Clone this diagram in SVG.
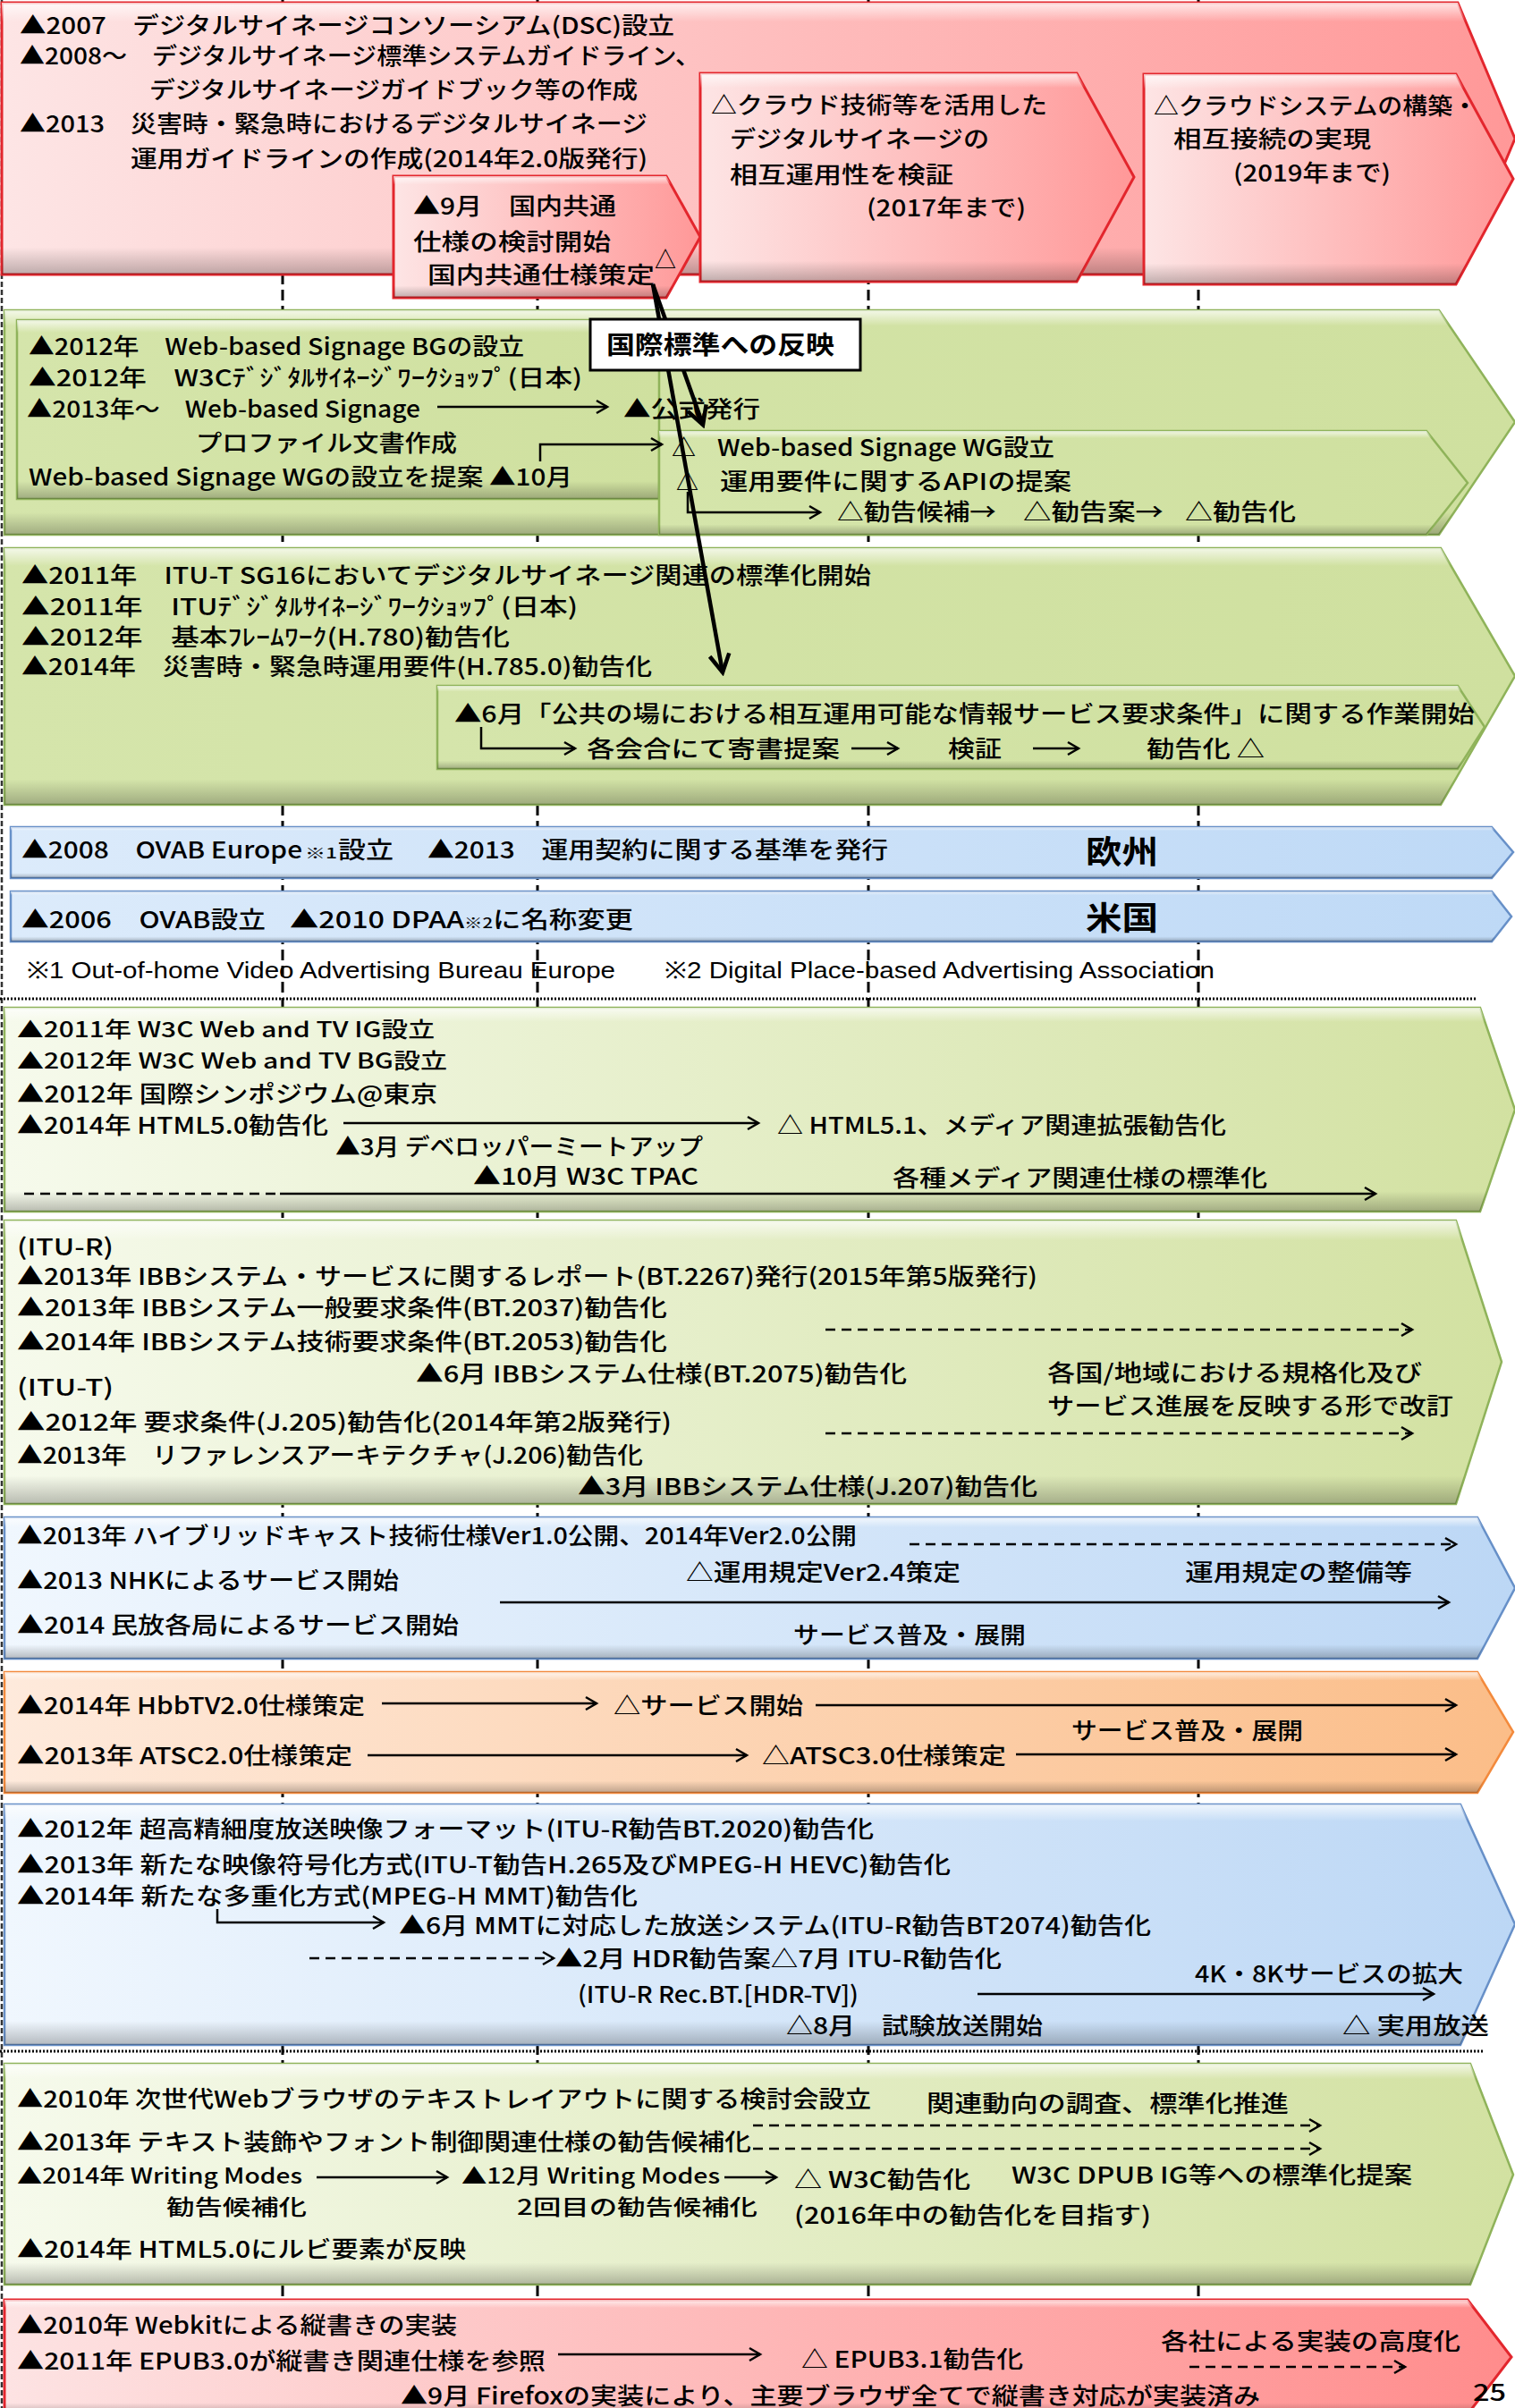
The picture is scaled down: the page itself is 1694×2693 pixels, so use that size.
<svg xmlns="http://www.w3.org/2000/svg" width="1694" height="2693" viewBox="0 0 1694 2693">
<defs>
<style>
.t{font-family:"Noto Sans CJK JP","Noto Sans CJK SC",sans-serif;font-size:26px;font-weight:500;fill:#000}
.t4{font-family:"Noto Sans CJK JP","Noto Sans CJK SC",sans-serif;font-size:24px;font-weight:500;fill:#000}
.b{font-family:"Noto Sans CJK JP","Noto Sans CJK SC",sans-serif;font-size:28px;font-weight:700;fill:#000}
.bb{font-family:"Noto Sans CJK JP","Noto Sans CJK SC",sans-serif;font-size:36px;font-weight:700;fill:#000}
.s{font-family:"Noto Sans CJK JP","Noto Sans CJK SC",sans-serif;font-size:16px;font-weight:500;fill:#000}
.f{font-family:"Liberation Sans",Arial,sans-serif;font-size:26px;fill:#000}
.tl{stroke:#000;stroke-width:3;stroke-dasharray:12 6;fill:none}
.dot{stroke:#000;stroke-width:3;stroke-dasharray:2 2;fill:none}
.ln{stroke:#000;stroke-width:2.5;fill:none;marker-end:url(#ah)}
.dl{stroke:#000;stroke-width:2.5;fill:none;stroke-dasharray:11 7;marker-end:url(#ah)}
.dn{stroke:#000;stroke-width:2.5;fill:none;stroke-dasharray:11 7}
.thick{stroke:#000;stroke-width:4.5;fill:none;marker-end:url(#ahT)}
.red{fill:url(#gRed);stroke:#e3262d;stroke-width:3}
.red2{fill:url(#gRed2);stroke:#e3262d;stroke-width:3}
.grn{fill:url(#gGrn);stroke:#8fb35a;stroke-width:2.5}
.grnL{fill:url(#gGrnL);stroke:#8fb35a;stroke-width:2.5}
.blu{fill:url(#gBlu);stroke:#6790c8;stroke-width:2.5}
.bluL{fill:url(#gBluL);stroke:#6790c8;stroke-width:2.5}
.org{fill:url(#gOrg);stroke:#f38a3c;stroke-width:2.5}
.bev{fill:url(#gBev);stroke:none}
</style>
<linearGradient id="gRed" x1="0" y1="0" x2="1" y2="0"><stop offset="0" stop-color="#fde5e5"/><stop offset="1" stop-color="#ff9898"/></linearGradient>
<linearGradient id="gRed2" x1="0" y1="0" x2="1" y2="0"><stop offset="0" stop-color="#fde3e3"/><stop offset="1" stop-color="#ff8c8c"/></linearGradient>
<linearGradient id="gGrn" x1="0" y1="0" x2="1" y2="0"><stop offset="0" stop-color="#d5e5ab"/><stop offset="1" stop-color="#cfe09f"/></linearGradient>
<linearGradient id="gGrnL" x1="0" y1="0" x2="1" y2="0"><stop offset="0" stop-color="#f6faec"/><stop offset="1" stop-color="#d2e1a1"/></linearGradient>
<linearGradient id="gBlu" x1="0" y1="0" x2="1" y2="0"><stop offset="0" stop-color="#dcebfb"/><stop offset="1" stop-color="#bed9f6"/></linearGradient>
<linearGradient id="gBluL" x1="0" y1="0" x2="1" y2="0"><stop offset="0" stop-color="#f0f7fe"/><stop offset="1" stop-color="#bcd7f5"/></linearGradient>
<linearGradient id="gOrg" x1="0" y1="0" x2="1" y2="0"><stop offset="0" stop-color="#feeadc"/><stop offset="1" stop-color="#fbbd88"/></linearGradient>
<linearGradient id="gBev" x1="0" y1="0" x2="0" y2="1"><stop offset="0" stop-color="#fff" stop-opacity="0.75"/><stop offset="0.07" stop-color="#fff" stop-opacity="0"/><stop offset="0.9" stop-color="#000" stop-opacity="0"/><stop offset="1" stop-color="#000" stop-opacity="0.25"/></linearGradient>
<marker id="ah" markerUnits="userSpaceOnUse" viewBox="0 0 18 18" markerWidth="18" markerHeight="18" refX="15" refY="9" orient="auto"><path d="M3,2 L15,9 L3,16" fill="none" stroke="#000" stroke-width="2.5"/></marker>
<marker id="ahT" markerUnits="userSpaceOnUse" viewBox="0 0 28 28" markerWidth="28" markerHeight="28" refX="24" refY="14" orient="auto"><path d="M4,3 L24,14 L4,25" fill="none" stroke="#000" stroke-width="4.5"/></marker>
</defs>
<rect width="1694" height="2693" fill="#fff"/>

<g id="timeline">
<line class="tl" x1="316" y1="0" x2="316" y2="2693"/>
<line class="tl" x1="601" y1="0" x2="601" y2="2693"/>
<line class="tl" x1="971" y1="0" x2="971" y2="2693"/>
<line class="tl" x1="1340" y1="0" x2="1340" y2="2693"/>
<line x1="2" y1="0" x2="2" y2="2693" stroke="#333" stroke-width="2.5" stroke-dasharray="6 3"/>
<line class="dot" x1="0" y1="1117" x2="1652" y2="1117"/>
<line class="dot" x1="0" y1="2294" x2="1660" y2="2294"/>
</g>

<g id="dsc-japan">
<path class="red" d="M2,3 H1630 L1694,155 L1630,307 H2 Z"/>
<path class="bev" d="M2,3 H1630 L1694,155 L1630,307 H2 Z"/>
<text class="t" x="22" y="38" textLength="732" lengthAdjust="spacingAndGlyphs">▲2007　デジタルサイネージコンソーシアム(DSC)設立</text>
<text class="t" x="22" y="72" textLength="761" lengthAdjust="spacingAndGlyphs">▲2008～　デジタルサイネージ標準システムガイドライン、</text>
<text class="t" x="167" y="110" textLength="546" lengthAdjust="spacingAndGlyphs">デジタルサイネージガイドブック等の作成</text>
<text class="t" x="22" y="148" textLength="702" lengthAdjust="spacingAndGlyphs">▲2013　災害時・緊急時におけるデジタルサイネージ</text>
<text class="t" x="146" y="187" textLength="578" lengthAdjust="spacingAndGlyphs">運用ガイドラインの作成(2014年2.0版発行)</text>
</g>
<g id="box-kokunai">
<path class="red" d="M440,197 H745 L783,265 L745,333 H440 Z"/>
<path class="bev" d="M440,197 H745 L783,265 L745,333 H440 Z"/>
<text class="t" x="462" y="240" textLength="227" lengthAdjust="spacingAndGlyphs">▲9月　国内共通</text>
<text class="t" x="462" y="280" textLength="221" lengthAdjust="spacingAndGlyphs">仕様の検討開始</text>
<text class="t" x="478" y="317" textLength="254" lengthAdjust="spacingAndGlyphs">国内共通仕様策定</text>
<text class="t" x="732" y="300" textLength="24" lengthAdjust="spacingAndGlyphs">△</text>
</g>
<g id="box-2017">
<path class="red" d="M783,82 H1204 L1268,198 L1204,315 H783 Z"/>
<path class="bev" d="M783,82 H1204 L1268,198 L1204,315 H783 Z"/>
<text class="t" x="795" y="127" textLength="376" lengthAdjust="spacingAndGlyphs">△クラウド技術等を活用した</text>
<text class="t" x="816" y="165" textLength="290" lengthAdjust="spacingAndGlyphs">デジタルサイネージの</text>
<text class="t" x="816" y="205" textLength="250" lengthAdjust="spacingAndGlyphs">相互運用性を検証</text>
<text class="t" x="969" y="242" textLength="178" lengthAdjust="spacingAndGlyphs">(2017年まで)</text>
</g>
<g id="box-2019">
<path class="red" d="M1279,83 H1628 L1692,200 L1628,318 H1279 Z"/>
<path class="bev" d="M1279,83 H1628 L1692,200 L1628,318 H1279 Z"/>
<text class="t" x="1290" y="128" textLength="362" lengthAdjust="spacingAndGlyphs">△クラウドシステムの構築・</text>
<text class="t" x="1312" y="165" textLength="221" lengthAdjust="spacingAndGlyphs">相互接続の実現</text>
<text class="t" x="1379" y="203" textLength="176" lengthAdjust="spacingAndGlyphs">(2019年まで)</text>
</g>

<g id="w3c-signage">
<path class="grn" d="M5,347 H1609 L1694,472 L1609,598 H5 Z"/>
<path class="bev" d="M5,347 H1609 L1694,472 L1609,598 H5 Z"/>
<rect class="grn" x="19" y="358" width="718" height="200"/>
<rect class="bev" x="19" y="358" width="718" height="200"/>
<text class="t" x="32" y="397" textLength="554" lengthAdjust="spacingAndGlyphs">▲2012年　Web-based Signage BGの設立</text>
<text class="t" x="32" y="432" textLength="619" lengthAdjust="spacingAndGlyphs">▲2012年　W3Cﾃﾞｼﾞﾀﾙｻｲﾈｰｼﾞﾜｰｸｼｮｯﾌﾟ(日本)</text>
<text class="t" x="30" y="467" textLength="440" lengthAdjust="spacingAndGlyphs">▲2013年～　Web-based Signage</text>
<text class="t" x="697" y="467" textLength="153" lengthAdjust="spacingAndGlyphs">▲公式発行</text>
<text class="t" x="219" y="505" textLength="292" lengthAdjust="spacingAndGlyphs">プロファイル文書作成</text>
<text class="t" x="32" y="543" textLength="608" lengthAdjust="spacingAndGlyphs">Web-based Signage WGの設立を提案 ▲10月</text>
</g>
<g id="w3c-signage-wg">
<path class="grn" d="M737,482 H1595 L1641,540 L1595,598 H737 Z"/>
<path class="bev" d="M737,482 H1595 L1641,540 L1595,598 H737 Z"/>
<text class="t" x="751" y="510" textLength="27" lengthAdjust="spacingAndGlyphs">△</text>
<text class="t" x="802" y="510" textLength="377" lengthAdjust="spacingAndGlyphs">Web-based Signage WG設立</text>
<text class="t" x="756" y="548" textLength="25" lengthAdjust="spacingAndGlyphs">△</text>
<text class="t" x="805" y="548" textLength="393" lengthAdjust="spacingAndGlyphs">運用要件に関するAPIの提案</text>
<text class="t" x="936" y="582" textLength="178" lengthAdjust="spacingAndGlyphs">△勧告候補→</text>
<text class="t" x="1144" y="582" textLength="157" lengthAdjust="spacingAndGlyphs">△勧告案→</text>
<text class="t" x="1325" y="582" textLength="124" lengthAdjust="spacingAndGlyphs">△勧告化</text>
</g>

<g id="itu-signage">
<path class="grn" d="M5,613 H1611 L1694,756 L1611,900 H5 Z"/>
<path class="bev" d="M5,613 H1611 L1694,756 L1611,900 H5 Z"/>
<text class="t" x="24" y="653" textLength="950" lengthAdjust="spacingAndGlyphs">▲2011年　ITU-T SG16においてデジタルサイネージ関連の標準化開始</text>
<text class="t" x="24" y="688" textLength="622" lengthAdjust="spacingAndGlyphs">▲2011年　ITUﾃﾞｼﾞﾀﾙｻｲﾈｰｼﾞﾜｰｸｼｮｯﾌﾟ(日本)</text>
<text class="t" x="24" y="722" textLength="546" lengthAdjust="spacingAndGlyphs">▲2012年　基本ﾌﾚｰﾑﾜｰｸ(H.780)勧告化</text>
<text class="t" x="24" y="755" textLength="705" lengthAdjust="spacingAndGlyphs">▲2014年　災害時・緊急時運用要件(H.785.0)勧告化</text>
</g>
<g id="itu-signage-work">
<path class="grn" d="M489,767 H1630 L1660,813 L1630,860 H489 Z"/>
<path class="bev" d="M489,767 H1630 L1660,813 L1630,860 H489 Z"/>
<text class="t" x="508" y="808" textLength="1141" lengthAdjust="spacingAndGlyphs">▲6月「公共の場における相互運用可能な情報サービス要求条件」に関する作業開始</text>
<text class="t" x="656" y="847" textLength="283" lengthAdjust="spacingAndGlyphs">各会合にて寄書提案</text>
<text class="t" x="1060" y="847" textLength="60" lengthAdjust="spacingAndGlyphs">検証</text>
<text class="t" x="1282" y="847" textLength="132" lengthAdjust="spacingAndGlyphs">勧告化 △</text>
</g>

<g id="europe">
<path class="blu" d="M12,925 H1668 L1692,953 L1668,982 H12 Z"/>
<path class="bev" d="M12,925 H1668 L1692,953 L1668,982 H12 Z"/>
<text class="t" x="24" y="960" textLength="314" lengthAdjust="spacingAndGlyphs">▲2008　OVAB Europe</text>
<text class="s" x="341" y="960" textLength="36" lengthAdjust="spacingAndGlyphs">※1</text>
<text class="t" x="378" y="960" textLength="62" lengthAdjust="spacingAndGlyphs">設立</text>
<text class="t" x="478" y="960" textLength="515" lengthAdjust="spacingAndGlyphs">▲2013　運用契約に関する基準を発行</text>
<text class="bb" x="1214" y="966" textLength="81" lengthAdjust="spacingAndGlyphs">欧州</text>
</g>
<g id="usa">
<path class="blu" d="M12,997 H1668 L1690,1025 L1668,1053 H12 Z"/>
<path class="bev" d="M12,997 H1668 L1690,1025 L1668,1053 H12 Z"/>
<text class="t" x="24" y="1038" textLength="273" lengthAdjust="spacingAndGlyphs">▲2006　OVAB設立</text>
<text class="t" x="324" y="1038" textLength="195" lengthAdjust="spacingAndGlyphs">▲2010 DPAA</text>
<text class="s" x="519" y="1038" textLength="32" lengthAdjust="spacingAndGlyphs">※2</text>
<text class="t" x="551" y="1038" textLength="157" lengthAdjust="spacingAndGlyphs">に名称変更</text>
<text class="bb" x="1214" y="1040" textLength="81" lengthAdjust="spacingAndGlyphs">米国</text>
</g>
<g id="footnotes">
<text class="f" x="30" y="1094" textLength="658" lengthAdjust="spacingAndGlyphs">※1 Out-of-home Video Advertising Bureau Europe</text>
<text class="f" x="743" y="1094" textLength="615" lengthAdjust="spacingAndGlyphs">※2 Digital Place-based Advertising Association</text>
</g>

<g id="w3c-webtv">
<path class="grnL" d="M5,1127 H1655 L1694,1241 L1655,1355 H5 Z"/>
<path class="bev" d="M5,1127 H1655 L1694,1241 L1655,1355 H5 Z"/>
<text class="t4" x="19" y="1160" textLength="467" lengthAdjust="spacingAndGlyphs">▲2011年 W3C Web and TV IG設立</text>
<text class="t4" x="19" y="1195" textLength="481" lengthAdjust="spacingAndGlyphs">▲2012年 W3C Web and TV BG設立</text>
<text class="t" x="19" y="1233" textLength="470" lengthAdjust="spacingAndGlyphs">▲2012年 国際シンポジウム@東京</text>
<text class="t" x="19" y="1268" textLength="348" lengthAdjust="spacingAndGlyphs">▲2014年 HTML5.0勧告化</text>
<text class="t" x="869" y="1268" textLength="502" lengthAdjust="spacingAndGlyphs">△ HTML5.1、メディア関連拡張勧告化</text>
<text class="t" x="375" y="1292" textLength="411" lengthAdjust="spacingAndGlyphs">▲3月 デベロッパーミートアップ</text>
<text class="t" x="529" y="1325" textLength="252" lengthAdjust="spacingAndGlyphs">▲10月 W3C TPAC</text>
<text class="t" x="998" y="1327" textLength="419" lengthAdjust="spacingAndGlyphs">各種メディア関連仕様の標準化</text>
</g>

<g id="ibb">
<path class="grnL" d="M5,1365 H1628 L1679,1523 L1628,1682 H5 Z"/>
<path class="bev" d="M5,1365 H1628 L1679,1523 L1628,1682 H5 Z"/>
<text class="t" x="19" y="1404" textLength="108" lengthAdjust="spacingAndGlyphs">(ITU-R)</text>
<text class="t" x="19" y="1437" textLength="1141" lengthAdjust="spacingAndGlyphs">▲2013年 IBBシステム・サービスに関するレポート(BT.2267)発行(2015年第5版発行)</text>
<text class="t" x="19" y="1472" textLength="727" lengthAdjust="spacingAndGlyphs">▲2013年 IBBシステム一般要求条件(BT.2037)勧告化</text>
<text class="t" x="19" y="1510" textLength="727" lengthAdjust="spacingAndGlyphs">▲2014年 IBBシステム技術要求条件(BT.2053)勧告化</text>
<text class="t" x="465" y="1546" textLength="549" lengthAdjust="spacingAndGlyphs">▲6月 IBBシステム仕様(BT.2075)勧告化</text>
<text class="t" x="19" y="1561" textLength="108" lengthAdjust="spacingAndGlyphs">(ITU-T)</text>
<text class="t" x="19" y="1600" textLength="732" lengthAdjust="spacingAndGlyphs">▲2012年 要求条件(J.205)勧告化(2014年第2版発行)</text>
<text class="t" x="19" y="1637" textLength="700" lengthAdjust="spacingAndGlyphs">▲2013年　リファレンスアーキテクチャ(J.206)勧告化</text>
<text class="t" x="646" y="1672" textLength="514" lengthAdjust="spacingAndGlyphs">▲3月 IBBシステム仕様(J.207)勧告化</text>
<text class="t" x="1171" y="1545" textLength="419" lengthAdjust="spacingAndGlyphs">各国/地域における規格化及び</text>
<text class="t" x="1171" y="1582" textLength="454" lengthAdjust="spacingAndGlyphs">サービス進展を反映する形で改訂</text>
</g>

<g id="hybridcast">
<path class="bluL" d="M5,1697 H1652 L1694,1776 L1652,1855 H5 Z"/>
<path class="bev" d="M5,1697 H1652 L1694,1776 L1652,1855 H5 Z"/>
<text class="t" x="19" y="1727" textLength="939" lengthAdjust="spacingAndGlyphs">▲2013年 ハイブリッドキャスト技術仕様Ver1.0公開、2014年Ver2.0公開</text>
<text class="t" x="19" y="1777" textLength="427" lengthAdjust="spacingAndGlyphs">▲2013 NHKによるサービス開始</text>
<text class="t" x="767" y="1768" textLength="307" lengthAdjust="spacingAndGlyphs">△運用規定Ver2.4策定</text>
<text class="t" x="1325" y="1768" textLength="254" lengthAdjust="spacingAndGlyphs">運用規定の整備等</text>
<text class="t" x="19" y="1827" textLength="494" lengthAdjust="spacingAndGlyphs">▲2014 民放各局によるサービス開始</text>
<text class="t" x="887" y="1838" textLength="260" lengthAdjust="spacingAndGlyphs">サービス普及・展開</text>
</g>

<g id="hbbtv-atsc">
<path class="org" d="M5,1870 H1652 L1692,1937 L1652,2005 H5 Z"/>
<path class="bev" d="M5,1870 H1652 L1692,1937 L1652,2005 H5 Z"/>
<text class="t" x="19" y="1917" textLength="389" lengthAdjust="spacingAndGlyphs">▲2014年 HbbTV2.0仕様策定</text>
<text class="t" x="686" y="1917" textLength="212" lengthAdjust="spacingAndGlyphs">△サービス開始</text>
<text class="t" x="19" y="1973" textLength="375" lengthAdjust="spacingAndGlyphs">▲2013年 ATSC2.0仕様策定</text>
<text class="t" x="852" y="1973" textLength="273" lengthAdjust="spacingAndGlyphs">△ATSC3.0仕様策定</text>
<text class="t" x="1198" y="1945" textLength="259" lengthAdjust="spacingAndGlyphs">サービス普及・展開</text>
</g>

<g id="uhdtv">
<path class="bluL" d="M5,2018 H1633 L1694,2152 L1633,2287 H5 Z"/>
<path class="bev" d="M5,2018 H1633 L1694,2152 L1633,2287 H5 Z"/>
<text class="t" x="19" y="2055" textLength="958" lengthAdjust="spacingAndGlyphs">▲2012年 超高精細度放送映像フォーマット(ITU-R勧告BT.2020)勧告化</text>
<text class="t" x="19" y="2095" textLength="1044" lengthAdjust="spacingAndGlyphs">▲2013年 新たな映像符号化方式(ITU-T勧告H.265及びMPEG-H HEVC)勧告化</text>
<text class="t" x="19" y="2130" textLength="694" lengthAdjust="spacingAndGlyphs">▲2014年 新たな多重化方式(MPEG-H MMT)勧告化</text>
<text class="t" x="446" y="2163" textLength="841" lengthAdjust="spacingAndGlyphs">▲6月 MMTに対応した放送システム(ITU-R勧告BT2074)勧告化</text>
<text class="t" x="621" y="2200" textLength="499" lengthAdjust="spacingAndGlyphs">▲2月 HDR勧告案△7月 ITU-R勧告化</text>
<text class="t" x="646" y="2240" textLength="314" lengthAdjust="spacingAndGlyphs">(ITU-R Rec.BT.[HDR-TV])</text>
<text class="t" x="1336" y="2217" textLength="300" lengthAdjust="spacingAndGlyphs">4K・8Kサービスの拡大</text>
<text class="t" x="879" y="2275" textLength="287" lengthAdjust="spacingAndGlyphs">△8月　試験放送開始</text>
<text class="t" x="1501" y="2275" textLength="164" lengthAdjust="spacingAndGlyphs">△ 実用放送</text>
</g>

<g id="text-layout">
<path class="grnL" d="M5,2308 H1644 L1692,2432 L1644,2555 H5 Z"/>
<path class="bev" d="M5,2308 H1644 L1692,2432 L1644,2555 H5 Z"/>
<text class="t" x="19" y="2357" textLength="955" lengthAdjust="spacingAndGlyphs">▲2010年 次世代Webブラウザのテキストレイアウトに関する検討会設立</text>
<text class="t" x="1036" y="2362" textLength="405" lengthAdjust="spacingAndGlyphs">関連動向の調査、標準化推進</text>
<text class="t" x="19" y="2405" textLength="821" lengthAdjust="spacingAndGlyphs">▲2013年 テキスト装飾やフォント制御関連仕様の勧告候補化</text>
<text class="t4" x="19" y="2442" textLength="319" lengthAdjust="spacingAndGlyphs">▲2014年 Writing Modes</text>
<text class="t4" x="186" y="2477" textLength="157" lengthAdjust="spacingAndGlyphs">勧告候補化</text>
<text class="t4" x="516" y="2442" textLength="289" lengthAdjust="spacingAndGlyphs">▲12月 Writing Modes</text>
<text class="t4" x="578" y="2477" textLength="269" lengthAdjust="spacingAndGlyphs">2回目の勧告候補化</text>
<text class="t" x="888" y="2447" textLength="197" lengthAdjust="spacingAndGlyphs">△ W3C勧告化</text>
<text class="t" x="1131" y="2442" textLength="448" lengthAdjust="spacingAndGlyphs">W3C DPUB IG等への標準化提案</text>
<text class="t" x="888" y="2487" textLength="399" lengthAdjust="spacingAndGlyphs">(2016年中の勧告化を目指す)</text>
<text class="t" x="19" y="2525" textLength="502" lengthAdjust="spacingAndGlyphs">▲2014年 HTML5.0にルビ要素が反映</text>
</g>

<g id="vertical-writing">
<path class="red2" d="M5,2572 H1641 L1690,2636 L1641,2700 H5 Z"/>
<path class="bev" d="M5,2572 H1641 L1690,2636 L1641,2700 H5 Z"/>
<text class="t" x="19" y="2610" textLength="492" lengthAdjust="spacingAndGlyphs">▲2010年 Webkitによる縦書きの実装</text>
<text class="t" x="19" y="2650" textLength="591" lengthAdjust="spacingAndGlyphs">▲2011年 EPUB3.0が縦書き関連仕様を参照</text>
<text class="t" x="896" y="2648" textLength="248" lengthAdjust="spacingAndGlyphs">△ EPUB3.1勧告化</text>
<text class="t" x="448" y="2689" textLength="961" lengthAdjust="spacingAndGlyphs">▲9月 Firefoxの実装により、主要ブラウザ全てで縦書き対応が実装済み</text>
<text class="t" x="1298" y="2628" textLength="335" lengthAdjust="spacingAndGlyphs">各社による実装の高度化</text>
</g>
<g id="page-number">
<text class="t" x="1647" y="2685" font-size="34" textLength="37" lengthAdjust="spacingAndGlyphs">25</text>
</g>

<g id="connectors">
<line class="thick" x1="730" y1="318" x2="808" y2="752"/>
<line class="thick" x1="730" y1="318" x2="786" y2="475"/>
<line class="ln" x1="489" y1="455" x2="679" y2="455"/>
<path class="ln" d="M604,516 V497 H740"/>
<path class="ln" d="M769,550 V573 H917"/>
<path class="ln" d="M538,813 V837 H643"/>
<line class="ln" x1="952" y1="837" x2="1004" y2="837"/>
<line class="ln" x1="1155" y1="837" x2="1206" y2="837"/>
<line class="ln" x1="384" y1="1256" x2="848" y2="1256"/>
<line class="dn" x1="27" y1="1335" x2="313" y2="1335"/>
<line class="ln" x1="313" y1="1335" x2="1538" y2="1335"/>
<line class="dl" x1="923" y1="1487" x2="1579" y2="1487"/>
<line class="dl" x1="923" y1="1603" x2="1579" y2="1603"/>
<line class="dl" x1="1017" y1="1727" x2="1628" y2="1727"/>
<line class="ln" x1="559" y1="1792" x2="1620" y2="1792"/>
<line class="ln" x1="427" y1="1905" x2="667" y2="1905"/>
<line class="ln" x1="912" y1="1907" x2="1628" y2="1907"/>
<line class="ln" x1="411" y1="1963" x2="835" y2="1963"/>
<line class="ln" x1="1136" y1="1962" x2="1628" y2="1962"/>
<path class="ln" d="M243,2135 V2150 H429"/>
<line class="dl" x1="346" y1="2190" x2="619" y2="2190"/>
<line class="ln" x1="1093" y1="2230" x2="1603" y2="2230"/>
<line class="dl" x1="842" y1="2377" x2="1476" y2="2377"/>
<line class="dl" x1="842" y1="2403" x2="1476" y2="2403"/>
<line class="ln" x1="354" y1="2435" x2="500" y2="2435"/>
<line class="ln" x1="810" y1="2435" x2="868" y2="2435"/>
<line class="ln" x1="624" y1="2633" x2="850" y2="2633"/>
<line class="dl" x1="1330" y1="2647" x2="1571" y2="2647"/>
</g>

<g id="label-kokusai">
<rect x="660" y="357" width="302" height="57" fill="#fff" stroke="#000" stroke-width="3"/>
<text class="b" x="678" y="396" textLength="255" lengthAdjust="spacingAndGlyphs">国際標準への反映</text>
</g>
</svg>
